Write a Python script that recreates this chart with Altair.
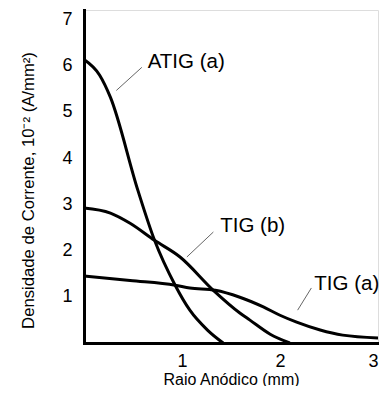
import altair as alt
import pandas as pd

# --- data ---
atig_x = [0.0, 0.16, 0.27, 0.55, 0.72, 0.93, 1.08, 1.26, 1.42]
atig_y = [6.13, 5.79, 5.31, 3.30, 2.22, 1.25, 0.71, 0.28, 0.0]

tigb_x = [0.0, 0.27, 0.47, 0.72, 0.98, 1.32, 1.59, 1.69, 1.90, 2.10]
tigb_y = [2.92, 2.81, 2.59, 2.22, 1.86, 1.14, 0.65, 0.50, 0.19, 0.0]

tiga_x = [0.0, 0.47, 0.93, 1.08, 1.34, 1.59, 1.83, 2.0, 2.17, 2.41, 2.64, 3.0]
tiga_y = [1.45, 1.35, 1.25, 1.19, 1.14, 0.99, 0.78, 0.60, 0.45, 0.28, 0.17, 0.11]

label_text = ["ATIG (a)", "TIG (b)", "TIG (a)"]
label_x = [0.65, 1.39, 2.35]
label_y = [5.94, 2.40, 1.14]

callout_x = [0.33, 1.05, 2.18]
callout_y = [5.46, 1.86, 0.71]
callout_x2 = [0.59, 1.32, 2.32]
callout_y2 = [5.96, 2.40, 1.19]

x_ticks = [1, 2, 3]
y_ticks = [1, 2, 3, 4, 5, 6, 7]

FONT = "Liberation Sans"

curves = pd.concat([
    pd.DataFrame({"serie": "ATIG (a)", "x": atig_x, "y": atig_y}),
    pd.DataFrame({"serie": "TIG (b)", "x": tigb_x, "y": tigb_y}),
    pd.DataFrame({"serie": "TIG (a)", "x": tiga_x, "y": tiga_y}),
])
labels = pd.DataFrame({"t": label_text, "x": label_x, "y": label_y})
callouts = pd.DataFrame({"x": callout_x, "y": callout_y, "x2": callout_x2, "y2": callout_y2})

xscale = alt.Scale(domain=[0, 3], nice=False, zero=False)
yscale = alt.Scale(domain=[0, 7.2], nice=False, zero=False)

xaxis = alt.Axis(values=x_ticks, format="d", title="Raio Anódico (mm)", ticks=False, tickSize=0,
                 grid=False, labelFontSize=18, titleFontSize=16, labelPadding=9,
                 titlePadding=1, domainWidth=3, domainColor="black", domainCap="square",
                 labelColor="black", titleColor="black", labelFont=FONT, titleFont=FONT,
                 titleFontWeight="normal")
yaxis = alt.Axis(values=y_ticks, format="d", title="Densidade de Corrente, 10⁻² (A/mm²)", ticks=False,
                 tickSize=0, grid=False, labelFontSize=18, titleFontSize=16.7, labelPadding=12,
                 titlePadding=24, domainWidth=3, domainColor="black", domainCap="square",
                 labelColor="black", titleColor="black", labelFont=FONT, titleFont=FONT,
                 titleFontWeight="normal", titleY=180)

lines = alt.Chart(curves).mark_line(color="black", strokeWidth=3, interpolate="monotone").encode(
    x=alt.X("x:Q", scale=xscale, axis=xaxis),
    y=alt.Y("y:Q", scale=yscale, axis=yaxis),
    detail="serie:N",
)

rules = alt.Chart(callouts).mark_rule(color="#666666", strokeWidth=1).encode(
    x=alt.X("x:Q", scale=xscale), y=alt.Y("y:Q", scale=yscale),
    x2="x2:Q", y2="y2:Q",
)

texts = alt.Chart(labels).mark_text(align="left", baseline="alphabetic", font=FONT,
                                    fontSize=20.5, color="black").encode(
    x=alt.X("x:Q", scale=xscale), y=alt.Y("y:Q", scale=yscale), text="t:N",
)

chart = alt.layer(lines, rules, texts).properties(
    width=294, height=333,
    autosize=alt.AutoSizeParams(type="none"),
    padding={"left": 76, "top": 2, "right": 1, "bottom": 43},
).configure_view(stroke=None).configure(background="white")

chart.save("out.html", embed_options={"renderer": "svg", "actions": False})
